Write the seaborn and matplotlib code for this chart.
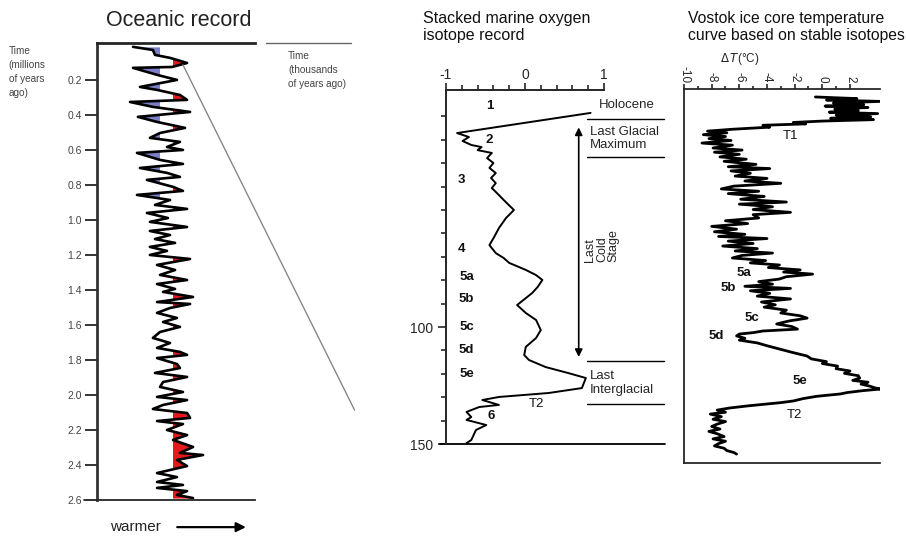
import numpy as np
import pandas as pd
import matplotlib
matplotlib.use("Agg")
import matplotlib.pyplot as plt
from matplotlib.patches import Rectangle
import seaborn as sns

sns.set_style("ticks")
plt.rcParams["font.family"] = ["Liberation Sans", "DejaVu Sans"]
plt.rcParams["axes.unicode_minus"] = False

# ---- oceanic record (age in Ma, relative temperature index 0 = cold .. 10 = warm)
ocean_age = [0.011, 0.029, 0.057, 0.074, 0.103, 0.126, 0.131, 0.171, 0.200, 0.240,
             0.257, 0.286, 0.314, 0.326, 0.354, 0.383, 0.411, 0.440, 0.474, 0.503,
             0.531, 0.554, 0.583, 0.600, 0.617, 0.657, 0.680, 0.703, 0.731, 0.754,
             0.771, 0.811, 0.834, 0.857, 0.886, 0.914, 0.937, 0.960, 0.989, 1.011,
             1.040, 1.063, 1.086, 1.109, 1.131, 1.154, 1.177, 1.200, 1.223, 1.257,
             1.286, 1.314, 1.343, 1.366, 1.394, 1.411, 1.440, 1.469, 1.480, 1.503,
             1.531, 1.560, 1.583, 1.611, 1.640, 1.674, 1.703, 1.731, 1.754, 1.771,
             1.789, 1.823, 1.846, 1.874, 1.897, 1.926, 1.954, 1.983, 2.011, 2.029,
             2.057, 2.080, 2.103, 2.131, 2.149, 2.166, 2.200, 2.229, 2.257, 2.297,
             2.331, 2.343, 2.371, 2.406, 2.446, 2.469, 2.497, 2.514, 2.531, 2.549,
             2.571, 2.589]
ocean_temp = [2.28, 3.54, 3.67, 4.62, 5.70, 4.75, 2.28, 3.80, 5.06, 2.72,
              3.80, 5.25, 5.70, 2.09, 3.54, 5.89, 2.59, 3.80, 5.57, 3.99,
              3.35, 5.25, 4.43, 5.44, 2.53, 3.99, 5.44, 2.72, 4.43, 5.25,
              3.16, 4.81, 5.44, 2.53, 4.62, 3.67, 5.70, 3.16, 4.49, 3.35,
              5.70, 3.35, 4.62, 3.67, 4.94, 3.35, 4.43, 3.35, 5.89, 3.80,
              4.94, 3.99, 5.70, 3.80, 4.94, 4.18, 6.08, 3.80, 5.89, 4.62,
              3.80, 5.06, 4.18, 5.25, 3.99, 3.54, 4.62, 3.80, 5.25, 5.70,
              3.80, 5.06, 5.25, 3.67, 5.70, 4.18, 3.99, 5.44, 3.80, 5.70,
              4.18, 3.54, 5.70, 5.89, 3.80, 5.44, 4.43, 5.70, 4.81, 6.08,
              5.25, 6.71, 5.06, 5.70, 3.80, 5.06, 3.80, 5.44, 3.80, 5.70,
              5.06, 6.08]
ocean_ticks = [0.2, 0.4, 0.6, 0.8, 1.0, 1.2, 1.4, 1.6, 1.8, 2.0, 2.2, 2.4, 2.6]
cold_thr, warm_thr = 4.0, 4.75
cold_shading_until = 0.92   # blue shading only shows in the younger part

# ---- stacked marine oxygen isotope record (age in ka)
marine_age = [8.5, 17.1, 18.8, 20.5, 22.2, 23.1, 24.4, 25.6, 27.8, 29.9,
              32.0, 34.2, 36.3, 38.5, 40.6, 43.6, 45.7, 50.0, 53.4, 57.7,
              61.5, 65.0, 68.4, 70.5, 72.6, 75.6, 77.8, 79.9, 82.9, 85.5,
              90.6, 94.0, 97.0, 101.3, 104.7, 108.5, 112.0, 114.1, 117.1, 119.7,
              121.8, 126.1, 128.2, 129.9, 131.2, 133.3, 134.2, 136.3, 138.5, 139.7,
              141.9, 144.0, 148.3, 149.6]
marine_val = [0.83, -0.86, -0.71, -0.79, -0.68, -0.55, -0.60, -0.42, -0.48, -0.40,
              -0.45, -0.37, -0.43, -0.37, -0.42, -0.33, -0.27, -0.14, -0.24, -0.33,
              -0.39, -0.45, -0.37, -0.27, -0.20, 0.01, 0.14, 0.22, 0.16, 0.09,
              -0.10, 0.01, 0.14, 0.20, 0.14, 0.01, -0.01, 0.05, 0.26, 0.55,
              0.77, 0.72, 0.30, -0.33, -0.54, -0.33, -0.58, -0.74, -0.68, -0.74,
              -0.49, -0.62, -0.68, -0.74]
marine_stages = ["1", "2", "3", "4", "5a", "5b", "5c", "5d", "5e", "6", "T2"]
marine_stage_age = [5.5, 20.0, 37.0, 66.5, 78.6, 88.0, 100.0, 110.0, 120.0, 138.0, 133.0]
marine_stage_x = [-0.45, -0.45, -0.80, -0.80, -0.74, -0.74, -0.74, -0.74, -0.74, -0.43, 0.14]

# ---- Vostok ice core temperature (age in ka, delta T in deg C)
vostok_age = [1.7, 2.4, 3.0, 3.6, 4.3, 5.0, 5.6, 6.2, 6.9, 7.5,
              8.2, 8.8, 9.5, 10.2, 10.8, 11.4, 12.0, 12.6, 13.2, 13.8,
              14.6, 15.5, 16.3, 17.0, 17.8, 18.6, 19.5, 20.3, 21.4, 22.3,
              23.5, 24.4, 25.3, 26.2, 27.3, 28.3, 29.2, 30.5, 31.5, 32.3,
              33.3, 34.3, 35.5, 36.5, 37.6, 38.6, 39.8, 41.0, 42.0, 43.0,
              44.2, 45.4, 46.6, 47.5, 48.6, 49.8, 51.0, 52.0, 53.4, 54.6,
              55.8, 57.0, 58.2, 59.3, 60.4, 61.3, 62.2, 63.3, 64.3, 65.4,
              66.5, 67.5, 68.4, 69.4, 70.5, 71.6, 72.6, 73.5, 74.6, 75.6,
              76.5, 77.4, 78.5, 79.5, 80.6, 81.7, 82.6, 83.5, 84.5, 85.6,
              86.8, 88.0, 89.3, 90.5, 91.5, 92.8, 94.0, 95.2, 96.2, 97.4,
              98.7, 99.8, 100.9, 101.7, 102.4, 103.0, 103.8, 104.8, 105.6, 106.8,
              108.0, 109.4, 110.8, 112.4, 113.6, 114.8, 115.6, 116.7, 117.8, 118.8,
              119.8, 120.8, 121.8, 122.8, 123.6, 124.4, 125.2, 126.0, 126.5, 127.2,
              128.0, 128.6, 129.6, 130.6, 131.6, 132.3, 132.9, 133.7, 134.6, 135.5,
              136.4, 137.2, 138.3, 139.4, 140.4, 141.5, 142.5, 143.6, 144.6, 145.6,
              146.8, 147.8, 148.8, 149.8, 150.8, 151.8, 152.8, 153.6, 154.3]
vostok_dT = [-0.5, 2.5, 0.3, 4.2, 0.8, 3.0, 0.2, 3.3, 0.9, 2.6,
             0.5, 4.0, 1.0, 3.5, 0.6, 3.7, 0.0, -2.1, -1.2, -4.3,
             -3.8, -6.5, -8.3, -6.9, -8.6, -7.0, -8.2, -6.6, -8.7, -6.5,
             -7.9, -5.8, -7.8, -6.0, -7.4, -5.5, -7.1, -4.8, -6.8, -3.8,
             -6.6, -5.2, -6.3, -4.0, -5.6, -3.0, -6.4, -7.3, -4.6, -6.8,
             -4.2, -5.9, -2.6, -6.0, -3.6, -5.0, -2.3, -5.0, -4.6, -7.0,
             -5.4, -8.0, -6.2, -7.8, -5.6, -7.5, -4.0, -6.8, -5.0, -7.2,
             -4.7, -6.3, -3.6, -5.8, -6.5, -4.1, -5.2, -3.1, -3.9, -1.6,
             -2.8, -0.7, -2.6, -3.1, -4.6, -3.6, -5.6, -2.3, -5.2, -3.8,
             -4.7, -2.3, -4.4, -3.4, -4.2, -2.6, -3.0, -1.6, -1.1, -2.4,
             -3.3, -2.2, -1.8, -4.3, -5.0, -6.0, -6.2, -5.6, -6.0, -4.7,
             -4.0, -3.1, -2.2, -1.1, -0.8, 0.3, 0.0, 1.1, 1.0, 2.0,
             1.6, 2.6, 2.7, 2.2, 3.3, 2.8, 3.4, 3.8, 4.2, 2.9,
             1.8, 1.3, -0.4, -1.4, -2.1, -3.0, -4.0, -5.4, -6.7, -7.6,
             -7.0, -8.1, -7.3, -7.9, -7.0, -7.6, -8.0, -7.4, -8.2, -7.6,
             -7.1, -7.9, -7.0, -7.5, -7.8, -7.1, -6.9, -6.4, -6.2]
vostok_labels = ["T1", "5a", "5b", "5c", "5d", "5e", "T2"]
vostok_label_age = [18.4, 77.0, 83.5, 96.0, 104.0, 123.0, 137.5]
vostok_label_x = [-2.3, -5.7, -6.8, -5.1, -7.7, -1.6, -2.0]

ocean = pd.DataFrame({"age": ocean_age, "temp": ocean_temp})
marine = pd.DataFrame({"age": marine_age, "d18o": marine_val})
vostok = pd.DataFrame({"age": vostok_age, "dT": vostok_dT})

W, H = 906, 536
def box(l, t, r, b):
    return [l / W, 1 - b / H, (r - l) / W, (b - t) / H]

fig = plt.figure(figsize=(W / 100, H / 100), dpi=100)
ax1 = fig.add_axes(box(97, 43, 255, 500))
ax2 = fig.add_axes(box(446, 90, 604, 444))
ax3 = fig.add_axes(box(684, 89, 880, 463))

blue, red = "#7c7fc6", "#e4191c"

# ---------- panel 1: oceanic record
a = ocean["age"].to_numpy()
t = ocean["temp"].to_numpy()
eps = 0.08
cold = ax1.fill_betweenx(a, t, cold_thr, color=blue, lw=0)
cold.set_clip_path(Rectangle((0, 0), cold_thr - eps, cold_shading_until,
                             transform=ax1.transData))
warm = ax1.fill_betweenx(a, t, warm_thr, color=red, lw=0)
warm.set_clip_path(Rectangle((warm_thr + eps, 0), 10 - warm_thr, 2.6,
                             transform=ax1.transData))
sns.lineplot(data=ocean, x="temp", y="age", sort=False, estimator=None,
             color="black", lw=1.9, ax=ax1)
ax1.set_xlim(0, 10)
ax1.set_ylim(2.6, -0.011)
ax1.set_xlabel("")
ax1.set_ylabel("")
ax1.set_xticks([])
ax1.set_yticks(ocean_ticks)
ax1.set_yticklabels([f"{v:.1f}" for v in ocean_ticks])
ax1.tick_params(axis="y", length=9, width=1.4, labelsize=7.5, pad=2,
                labelcolor="#444", color="#333")
ax1.spines["right"].set_visible(False)
ax1.spines["left"].set_linewidth(2.0)
ax1.spines["top"].set_linewidth(2.0)
ax1.spines["bottom"].set_linewidth(1.3)
ax1.spines["left"].set_color("#333")
ax1.plot([-0.8, 0], [2.6, 2.6], color="#333", lw=1.3, clip_on=False)
# zoom guide lines toward the right-hand panels
ax1.plot([10.7, 16.1], [-0.011, -0.011], color="#666", lw=1.0, clip_on=False)
ax1.plot([5.44, 16.3], [0.114, 2.086], color="#888", lw=1.0, clip_on=False)

ax1.text(5.15, -0.14, "Oceanic record", ha="center", va="center", fontsize=15.5,
         color="#222", clip_on=False)
ax1.text(-5.6, 0.005, "Time\n(millions\nof years\nago)", ha="left", va="top",
         fontsize=7.2, linespacing=1.5, color="#444", clip_on=False)
ax1.text(12.1, 0.035, "Time\n(thousands\nof years ago)", ha="left", va="top",
         fontsize=7.2, linespacing=1.5, color="#444", clip_on=False)
ax1.text(0.8, 2.755, "warmer", ha="left", va="center", fontsize=11, color="#222",
         clip_on=False)
ax1.annotate("", xy=(9.6, 2.755), xytext=(4.9, 2.755), annotation_clip=False,
             arrowprops=dict(arrowstyle="-|>", color="black", lw=1.6,
                             mutation_scale=14))

# ---------- panel 2: stacked marine record
sns.lineplot(data=marine, x="d18o", y="age", sort=False, estimator=None,
             color="black", lw=1.4, ax=ax2)
ax2.set_xlim(-1, 1)
ax2.set_ylim(150, -1.3)
ax2.set_xlabel("")
ax2.set_ylabel("")
ax2.xaxis.tick_top()
ax2.set_xticks([-1, 0, 1])
ax2.set_xticklabels(["-1", "0", "1"])
ax2.set_xticks(np.arange(-1, 1.01, 0.2), minor=True)
ax2.set_yticks([100, 150])
ax2.set_yticklabels(["100", "150"])
ax2.set_yticks(np.arange(10, 150, 10), minor=True)
ax2.tick_params(axis="x", which="major", length=5, width=1.2, labelsize=10, pad=1)
ax2.tick_params(axis="y", which="major", length=6, width=1.2, labelsize=10, pad=3)
ax2.tick_params(axis="both", which="minor", length=3.5, width=1.2)
ax2.spines["right"].set_visible(False)
ax2.spines["bottom"].set_visible(False)
for s in ["top", "left"]:
    ax2.spines[s].set_linewidth(1.4)
ax2.plot([-1.08, 1.77], [150, 150], color="black", lw=1.3, clip_on=False)

for lab, ag, xx in zip(marine_stages, marine_stage_age, marine_stage_x):
    ax2.text(xx, ag, lab, ha="center", va="center", fontsize=9.5,
             fontweight="bold" if lab != "T2" else "normal", color="#111")

for ag in [11.1, 27.4, 114.5, 133.0]:
    ax2.plot([0.78, 1.76], [ag, ag], color="black", lw=1.0, clip_on=False)
ax2.text(0.93, 5.0, "Holocene", ha="left", va="center", fontsize=9.5, clip_on=False)
ax2.text(0.82, 19.3, "Last Glacial\nMaximum", ha="left", va="center", fontsize=9.5,
         linespacing=1.15, clip_on=False)
ax2.text(0.82, 124.0, "Last\nInterglacial", ha="left", va="center", fontsize=9.5,
         linespacing=1.15, clip_on=False)
ax2.text(0.975, 65.0, "Last\nCold\nStage", ha="center", va="center", rotation=90,
         multialignment="left", fontsize=9, linespacing=0.95, clip_on=False)
ax2.annotate("", xy=(0.68, 13.5), xytext=(0.68, 114.0), annotation_clip=False,
             arrowprops=dict(arrowstyle="<|-|>", color="black", lw=1.2,
                             mutation_scale=11))

# ---------- panel 3: Vostok ice core
sns.lineplot(data=vostok, x="dT", y="age", sort=False, estimator=None,
             color="black", lw=2.0, ax=ax3)
ax3.set_xlim(-10, 4.17)
ax3.set_ylim(158.1, -1.7)
ax3.set_xlabel("")
ax3.set_ylabel("")
ax3.xaxis.tick_top()
ax3.set_xticks(list(range(-10, 3, 2)))
ax3.set_xticklabels([str(v) for v in range(-10, 3, 2)])
ax3.set_xticks(list(range(-9, 3, 2)), minor=True)
ax3.set_yticks([])
ax3.tick_params(axis="x", which="major", length=3.5, width=1.2, labelsize=8.5,
                pad=1, labelrotation=-90)
ax3.tick_params(axis="x", which="minor", length=2.5, width=1.2)
ax3.spines["right"].set_visible(False)
for s in ["top", "left", "bottom"]:
    ax3.spines[s].set_linewidth(1.3)
ax3.text(-5.95, -14.5, r"$\Delta\,T$(°C)", ha="center", va="center", fontsize=8.5,
         clip_on=False)
for lab, ag, xx in zip(vostok_labels, vostok_label_age, vostok_label_x):
    ax3.text(xx, ag, lab, ha="center", va="center", fontsize=9.5,
             fontweight="normal" if lab.startswith("T") else "bold", color="#111")

fig.text(423 / W, 1 - 11 / H, "Stacked marine oxygen\nisotope record", ha="left",
         va="top", fontsize=11.5, linespacing=1.2, color="#111")
fig.text(688 / W, 1 - 11 / H, "Vostok ice core temperature\ncurve based on stable isotopes",
         ha="left", va="top", fontsize=11.3, linespacing=1.2, color="#111")

fig.savefig("out.png", dpi=100)
